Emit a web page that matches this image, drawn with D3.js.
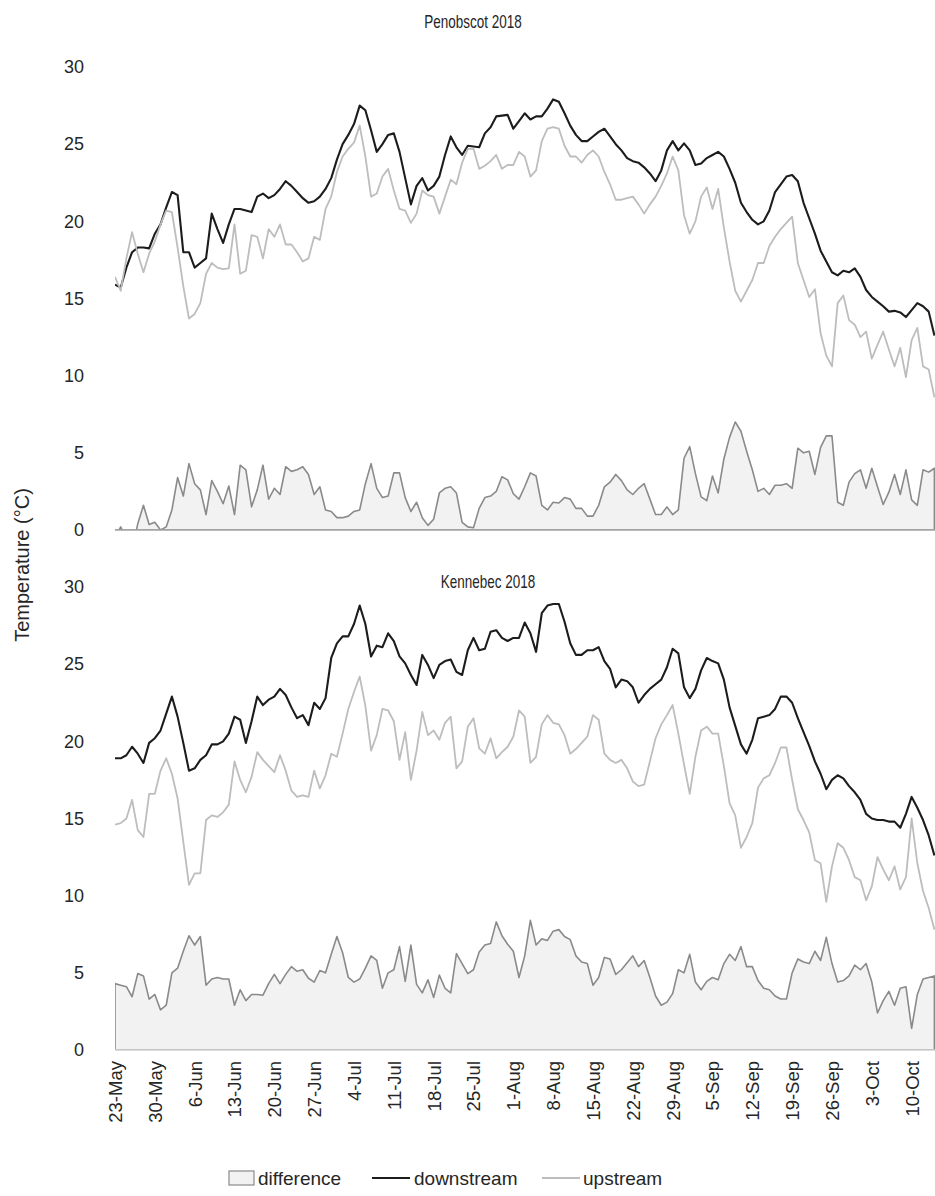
<!DOCTYPE html>
<html>
<head>
<meta charset="utf-8">
<script src="https://cdn.jsdelivr.net/npm/d3@7"></script>
<style>
  html, body { margin: 0; padding: 0; background: #fff; }
  svg { display: block; }
  text { font-family: "Liberation Sans", Arial, sans-serif; }
</style>
</head>
<body>
<svg id="chart" width="935" height="1196"></svg>
<script>
// Daily water temperature (°C), 23 May – 14 Oct 2018
const startDate = new Date(2018, 4, 23);

const tickLabels = ["23-May", "30-May", "6-Jun", "13-Jun", "20-Jun", "27-Jun", "4-Jul",
  "11-Jul", "18-Jul", "25-Jul", "1-Aug", "8-Aug", "15-Aug", "22-Aug", "29-Aug",
  "5-Sep", "12-Sep", "19-Sep", "26-Sep", "3-Oct", "10-Oct"];

const yTicks = [0, 5, 10, 15, 20, 25, 30];

const penobscotDown = [
  15.9, 15.7, 17.0, 18.0, 18.3, 18.3, 18.25, 19.2, 19.8, 20.9,
  21.9, 21.7, 18.0, 18.0, 17.0, 17.3, 17.6, 20.5, 19.5, 18.6,
  19.8, 20.8, 20.8, 20.7, 20.6, 21.6, 21.8, 21.5, 21.7, 22.1,
  22.6, 22.3, 21.9, 21.5, 21.2, 21.3, 21.6, 22.1, 22.8, 24.0,
  25.0, 25.6, 26.3, 27.5, 27.2, 25.9, 24.5, 25.0, 25.6, 25.7,
  24.5, 22.8, 21.1, 22.3, 22.8, 22.0, 22.3, 22.9, 24.3, 25.5,
  24.8, 24.3, 24.9, 24.85, 24.8, 25.7, 26.1, 26.8, 26.85, 26.9,
  26.0, 26.5, 27.0, 26.6, 26.8, 26.8, 27.3, 27.9, 27.75, 27.0,
  26.2, 25.6, 25.2, 25.2, 25.5, 25.8, 26.0, 25.5, 25.0, 24.6,
  24.1, 23.9, 23.8, 23.5, 23.1, 22.6, 23.3, 24.6, 25.2, 24.6,
  25.05, 24.6, 23.65, 23.75, 24.1, 24.3, 24.5, 24.2, 23.4, 22.5,
  21.2, 20.6, 20.1, 19.8, 20.0, 20.7, 21.9, 22.4, 22.9, 23.0,
  22.6, 21.2, 20.2, 19.2, 18.1, 17.4, 16.7, 16.5, 16.8, 16.7,
  16.95, 16.4, 15.55, 15.1, 14.8, 14.5, 14.15, 14.2, 14.1, 13.8,
  14.25, 14.7, 14.5, 14.15, 12.6
];

const penobscotUp = [
  16.4, 15.5, 17.6, 19.3, 17.9, 16.7, 17.9, 18.7, 19.8, 20.7,
  20.6, 18.3, 15.8, 13.7, 14.0, 14.7, 16.6, 17.3, 17.0, 16.9,
  16.95, 19.8, 16.6, 16.8, 19.1, 19.0, 17.6, 19.5, 19.0, 19.8,
  18.5, 18.5, 18.0, 17.4, 17.6, 19.0, 18.8, 20.8, 21.6, 23.2,
  24.2, 24.7, 25.1, 26.2, 24.2, 21.6, 21.8, 22.9, 23.4, 22.0,
  20.8, 20.7, 19.9, 20.5, 22.0, 21.7, 21.6, 20.5, 21.6, 22.7,
  22.4, 23.8, 24.7, 24.7, 23.4, 23.6, 23.9, 24.3, 23.4, 23.65,
  23.65, 24.5, 24.2, 22.9, 23.3, 25.2, 26.0, 26.1, 26.0, 24.9,
  24.2, 24.2, 23.8, 24.3, 24.6, 24.2, 23.2, 22.4, 21.4, 21.4,
  21.5, 21.6, 21.1, 20.5, 21.1, 21.6, 22.3, 23.1, 24.2, 23.3,
  20.4, 19.2, 20.0, 21.6, 22.2, 20.8, 22.1, 19.6, 17.4, 15.5,
  14.8, 15.5, 16.2, 17.3, 17.3, 18.4, 19.0, 19.5, 19.9, 20.3,
  17.3, 16.2, 15.1, 15.6, 12.75, 11.3, 10.6, 14.7, 15.2, 13.6,
  13.3, 12.5, 12.85, 11.1, 12.0, 12.85, 11.7, 10.6, 11.8, 9.9,
  12.3, 13.1, 10.6, 10.4, 8.6
];

const kennebecDown = [
  18.9, 18.9, 19.1, 19.65, 19.2, 18.6, 19.9, 20.2, 20.7, 21.8,
  22.9, 21.6, 19.9, 18.1, 18.25, 18.8, 19.1, 19.8, 19.8, 20.0,
  20.5, 21.6, 21.4, 19.9, 21.3, 22.9, 22.35, 22.7, 22.9, 23.4,
  23.0, 22.2, 21.5, 21.7, 21.05, 22.5, 22.1, 22.8, 25.4, 26.35,
  26.8, 26.8, 27.6, 28.8, 27.6, 25.5, 26.2, 26.1, 27.0, 26.5,
  25.5, 25.05, 24.3, 23.65, 25.6, 24.95, 24.1, 24.95, 25.2, 25.3,
  24.5, 24.3, 25.9, 26.7, 25.9, 26.0, 27.1, 27.2, 26.7, 26.5,
  26.7, 26.7, 27.7, 27.0, 25.8, 28.3, 28.8, 28.9, 28.9, 27.75,
  26.35, 25.6, 25.6, 25.9, 25.9, 26.1, 25.2, 24.7, 23.5, 24.0,
  23.9, 23.5, 22.5, 23.0, 23.4, 23.7, 24.0, 24.8, 26.0, 25.7,
  23.5, 22.8, 23.4, 24.6, 25.4, 25.2, 25.05, 24.0, 22.2, 21.0,
  19.8, 19.2, 20.1, 21.5, 21.6, 21.7, 22.1, 22.9, 22.9, 22.5,
  21.5, 20.6, 19.7, 18.7, 17.9, 16.9, 17.5, 17.8, 17.6, 17.1,
  16.7, 16.2, 15.3, 15.0, 14.9, 14.9, 14.8, 14.8, 14.4, 15.3,
  16.4, 15.7, 14.9, 13.9, 12.6
];

const kennebecUp = [
  14.6, 14.7, 15.0, 16.2, 14.25, 13.8, 16.6, 16.6, 18.1, 18.9,
  17.9, 16.3, 13.5, 10.7, 11.45, 11.45, 14.9, 15.2, 15.1, 15.4,
  15.9, 18.7, 17.5, 16.7, 17.7, 19.3, 18.8, 18.4, 18.0, 19.1,
  18.1, 16.8, 16.4, 16.5, 16.4, 18.1, 16.95, 17.8, 19.2, 19.0,
  20.5, 22.1, 23.2, 24.2, 22.3, 19.4, 20.4, 22.1, 22.0, 21.3,
  18.8, 20.6, 17.5, 19.4, 21.9, 20.4, 20.7, 20.1, 21.2, 21.6,
  18.25, 18.7, 20.95, 21.5, 19.55, 19.2, 20.2, 18.9, 19.3, 19.65,
  20.3, 22.0, 21.6, 18.6, 19.0, 21.1, 21.7, 21.2, 21.1, 20.4,
  19.2, 19.5, 19.9, 20.3, 21.7, 21.4, 19.2, 18.8, 18.6, 18.8,
  18.25, 17.4, 17.1, 17.2, 18.7, 20.2, 21.1, 21.7, 22.35, 20.5,
  18.5, 16.6, 19.0, 20.7, 20.95, 20.5, 20.5, 18.4, 16.0, 15.2,
  13.1, 13.8, 14.7, 17.0, 17.6, 17.8, 18.6, 19.6, 19.6, 17.5,
  15.6, 14.9, 14.1, 12.3, 12.1, 9.6, 11.9, 13.4, 13.1, 12.3,
  11.2, 11.0, 9.7, 10.6, 12.5, 11.7, 11.0, 11.9, 10.4, 11.2,
  15.0, 12.1, 10.3, 9.2, 7.8
];

const panels = [
  { title: "Penobscot 2018", down: penobscotDown, up: penobscotUp, zeroY: 530, titleX: 473, titleY: 28, xLabels: false, axisColor: "#a3a3a3" },
  { title: "Kennebec 2018",  down: kennebecDown,  up: kennebecUp,  zeroY: 1050, titleX: 488, titleY: 588, xLabels: true, axisColor: "#d0d0d0" }
];

const colors = { area: "#f2f2f2", areaStroke: "#8a8a8a", down: "#1c1c1c", up: "#bdbdbd", text: "#262626" };

const svg = d3.select("#chart");
const plotLeft = 115, plotRight = 935;
const nDays = penobscotDown.length;
const lastDate = d3.timeDay.offset(startDate, nDays - 1);
const x = d3.scaleTime().domain([startDate, lastDate]).range([plotLeft, 934.4]);
const tickDates = tickLabels.map((_, i) => d3.timeDay.offset(startDate, i * 7));

// panel titles are set in a condensed width
const titleSqueeze = 0.75;

panels.forEach((p, pi) => {
  const y = d3.scaleLinear().domain([0, 30]).range([p.zeroY, p.zeroY - 463]);
  const rows = p.down.map((v, i) => ({
    date: d3.timeDay.offset(startDate, i),
    down: v,
    up: p.up[i],
    diff: v - p.up[i]
  }));

  const clipId = "clip" + pi;
  svg.append("clipPath").attr("id", clipId)
    .append("rect")
    .attr("x", plotLeft).attr("y", y(30) - 20)
    .attr("width", plotRight - plotLeft).attr("height", y(0) - y(30) + 20);

  const g = svg.append("g").attr("clip-path", `url(#${clipId})`);

  // difference between downstream and upstream, filled from zero
  const area = d3.area()
    .x(d => x(d.date))
    .y0(y(0))
    .y1(d => y(d.diff));
  g.append("path").datum(rows)
    .attr("d", area)
    .attr("fill", colors.area)
    .attr("stroke", colors.areaStroke)
    .attr("stroke-width", 1.6)
    .attr("stroke-linejoin", "round");

  // horizontal axis line at zero
  svg.append("line")
    .attr("x1", plotLeft).attr("x2", plotRight)
    .attr("y1", y(0)).attr("y2", y(0))
    .attr("stroke", p.axisColor).attr("stroke-width", 1.6);

  const line = key => d3.line().x(d => x(d.date)).y(d => y(d[key]));
  g.append("path").datum(rows)
    .attr("d", line("down"))
    .attr("fill", "none").attr("stroke", colors.down)
    .attr("stroke-width", 2.1).attr("stroke-linejoin", "round");
  g.append("path").datum(rows)
    .attr("d", line("up"))
    .attr("fill", "none").attr("stroke", colors.up)
    .attr("stroke-width", 1.8).attr("stroke-linejoin", "round");

  // y axis labels (right-aligned at x = 84)
  const yAxis = svg.append("g")
    .attr("transform", `translate(${plotLeft},0)`)
    .call(d3.axisLeft(y).tickValues(yTicks).tickSize(0).tickPadding(31));
  yAxis.select(".domain").remove();
  yAxis.attr("font-family", null).attr("font-size", null);
  yAxis.selectAll(".tick text")
    .attr("font-size", 18)
    .attr("fill", colors.text);

  // panel title
  svg.append("text")
    .attr("transform", `translate(${p.titleX},${p.titleY}) scale(${titleSqueeze},1)`)
    .attr("text-anchor", "middle")
    .attr("font-size", 18)
    .attr("fill", colors.text)
    .text(p.title);

  if (p.xLabels) {
    const xAxis = svg.append("g")
      .attr("transform", `translate(0,${y(0)})`)
      .call(d3.axisBottom(x).tickValues(tickDates).tickFormat((d, i) => tickLabels[i]).tickSize(0));
    xAxis.select(".domain").remove();
    xAxis.attr("font-family", null).attr("font-size", null);
    xAxis.selectAll(".tick text")
      .attr("font-size", 18.5)
      .attr("fill", colors.text)
      .attr("text-anchor", "end")
      .attr("transform", "rotate(-90)")
      .attr("x", -11)
      .attr("y", 0)
      .attr("dy", "0.35em");
  }
});

// shared y axis title
svg.append("text")
  .attr("transform", "translate(22,565) rotate(-90)")
  .attr("text-anchor", "middle")
  .attr("dy", "0.35em")
  .attr("font-size", 20)
  .attr("fill", colors.text)
  .text("Temperature (°C)");

// legend
const legend = svg.append("g").attr("font-size", 19).attr("fill", colors.text);
legend.append("rect")
  .attr("x", 229).attr("y", 1171).attr("width", 25).attr("height", 14)
  .attr("fill", colors.area).attr("stroke", colors.areaStroke).attr("stroke-width", 1.2);
legend.append("text").attr("x", 258).attr("y", 1185).text("difference");
legend.append("line")
  .attr("x1", 372).attr("x2", 410).attr("y1", 1178).attr("y2", 1178)
  .attr("stroke", colors.down).attr("stroke-width", 2.1);
legend.append("text").attr("x", 414).attr("y", 1185).text("downstream");
legend.append("line")
  .attr("x1", 542).attr("x2", 580).attr("y1", 1178).attr("y2", 1178)
  .attr("stroke", colors.up).attr("stroke-width", 1.8);
legend.append("text").attr("x", 583).attr("y", 1185).text("upstream");
</script>
</body>
</html>
